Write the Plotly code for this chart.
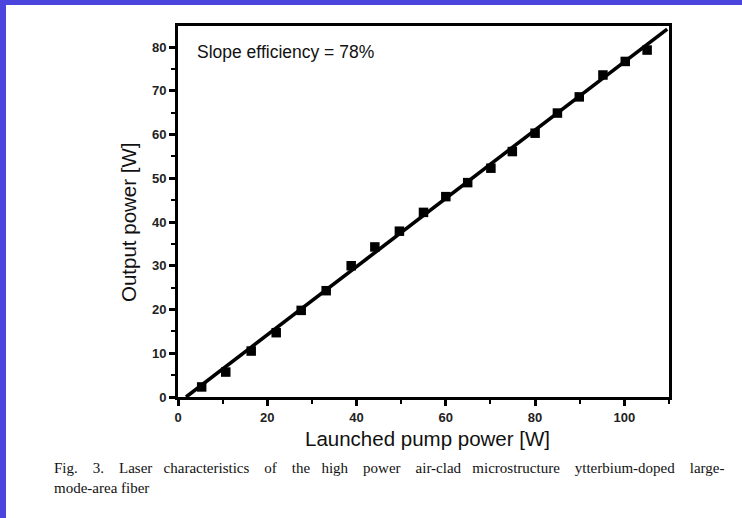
import plotly.graph_objects as go

# Data
pump_power = [5.3, 10.7, 16.4, 22.0, 27.6, 33.2, 38.8, 44.1, 49.6, 55.0,
              60.0, 64.9, 70.1, 74.9, 80.0, 85.0, 89.9, 95.2, 100.2, 105.1]
output_power = [2.3, 5.7, 10.5, 14.7, 19.8, 24.3, 30.0, 34.3, 37.9, 42.2,
                45.8, 49.0, 52.3, 56.1, 60.3, 64.9, 68.6, 73.6, 76.7, 79.3]
fit_x = [1.8, 109.6]
fit_y = [0.0, 84.1]
x_ticks = [0, 20, 40, 60, 80, 100]
y_ticks = [0, 10, 20, 30, 40, 50, 60, 70, 80]

W, H = 742, 518
L, R, T, B = 178, 669, 26, 397

fig = go.Figure()
fig.add_trace(go.Scatter(x=fit_x, y=fit_y, mode="lines",
                         line=dict(color="black", width=3.6), hoverinfo="skip"))
fig.add_trace(go.Scatter(x=pump_power, y=output_power, mode="markers",
                         marker=dict(symbol="square", size=9.5, color="black")))

axis_font = dict(family="Liberation Sans, Arial, sans-serif", size=13, color="#222",
                 weight="bold")
fig.update_layout(
    width=W, height=H,
    margin=dict(l=L, r=W - R, t=T, b=H - B),
    paper_bgcolor="white", plot_bgcolor="white",
    showlegend=False,
    xaxis=dict(range=[0, 110], tickvals=x_ticks, ticks="outside", ticklen=6, tickwidth=2.5,
               tickcolor="black", showgrid=False, zeroline=False,
               showline=True, linecolor="black", linewidth=3, mirror=True,
               tickfont=axis_font,
               minor=dict(tickvals=[10, 30, 50, 70, 90, 110], ticks="outside", ticklen=4,
                          tickwidth=2, tickcolor="black")),
    yaxis=dict(range=[0, 84.8], tickvals=y_ticks, ticks="outside", ticklen=6, tickwidth=2.5,
               tickcolor="black", showgrid=False, zeroline=False,
               showline=True, linecolor="black", linewidth=3, mirror=True,
               tickfont=axis_font,
               minor=dict(tickvals=[5, 15, 25, 35, 45, 55, 65, 75], ticks="outside", ticklen=4,
                          tickwidth=2, tickcolor="black")),
)

pw, ph = R - L, B - T
def px(x):
    return (x - L) / pw
def py(y):
    return (B - y) / ph

title_font = dict(family="Liberation Sans, Arial, sans-serif", size=20.5, color="#111")
fig.add_annotation(text="Launched pump power [W]", xref="paper", yref="paper",
                   x=px(427), y=py(438), showarrow=False, font=title_font,
                   xanchor="center", yanchor="middle")
fig.add_annotation(text="Output power [W]", xref="paper", yref="paper",
                   x=px(128), y=py(222), showarrow=False, font=title_font, textangle=-90,
                   xanchor="center", yanchor="middle")
fig.add_annotation(text="Slope efficiency = 78%", xref="paper", yref="paper",
                   x=px(195), y=py(52), showarrow=False,
                   font=dict(family="Liberation Sans, Arial, sans-serif", size=17.5, color="#111"),
                   xanchor="left", yanchor="middle")

cap_font = dict(family="Liberation Serif, Times New Roman, serif", size=15, color="#111")
caption1_words = ["Fig.", "3.", "Laser", "characteristics", "of", "the", "high", "power",
                  "air-clad", "microstructure", "ytterbium-doped", "large-"]
caption1 = ""
for i, w in enumerate(caption1_words):
    if i > 0:
        caption1 += " " + "\u00a0" * (3 if i % 3 != 0 else 2)
    caption1 += w
fig.add_annotation(text=caption1,
                   xref="paper", yref="paper", x=px(52), y=py(468), showarrow=False,
                   font=cap_font, xanchor="left", yanchor="middle")
fig.add_annotation(text="mode-area fiber", xref="paper", yref="paper", x=px(52), y=py(488),
                   showarrow=False, font=cap_font, xanchor="left", yanchor="middle")

# blue frame on left and top
blue = "#4b44dd"
fig.add_shape(type="rect", xref="paper", yref="paper", x0=px(0), x1=px(6), y0=py(H), y1=py(0),
              fillcolor=blue, line_width=0, layer="above")
fig.add_shape(type="rect", xref="paper", yref="paper", x0=px(0), x1=px(W), y0=py(5), y1=py(0),
              fillcolor=blue, line_width=0, layer="above")

fig.write_html("out.html")
